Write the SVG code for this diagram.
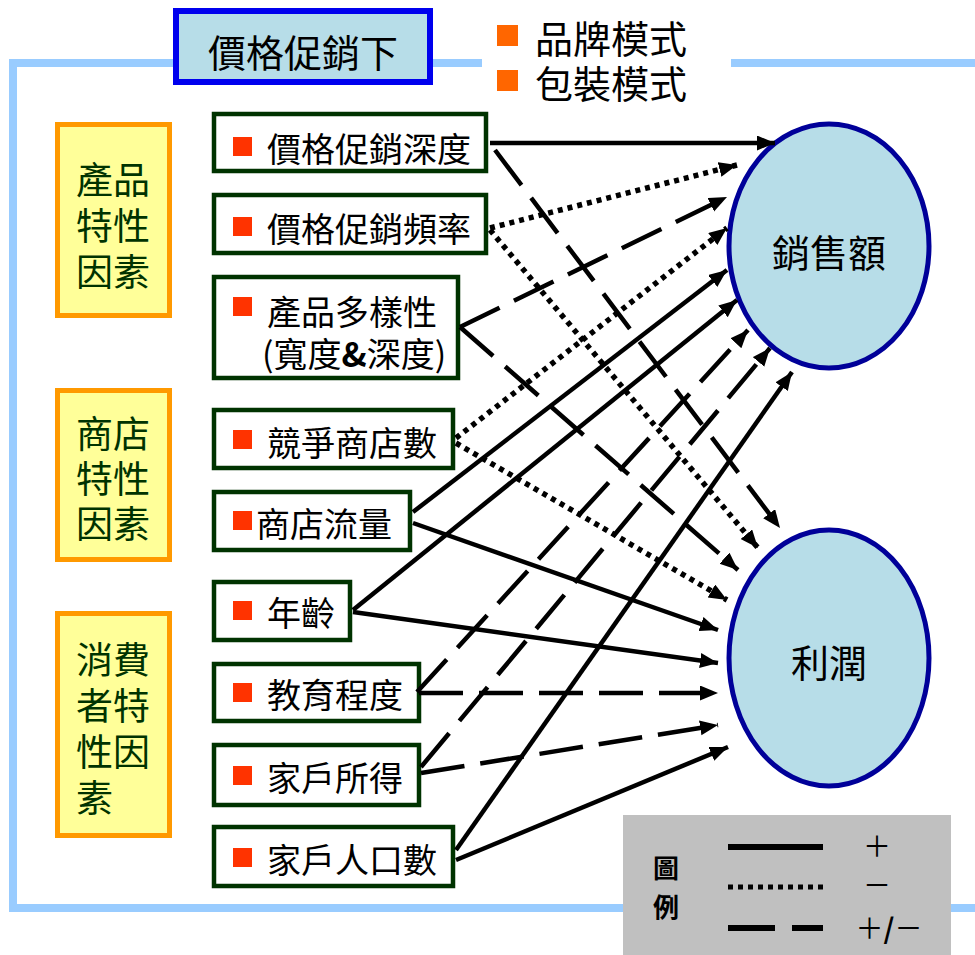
<svg xmlns="http://www.w3.org/2000/svg" width="975" height="955" viewBox="0 0 975 955">
<style>
text{font-family:"Noto Sans CJK TC","Noto Sans CJK SC",sans-serif;dominant-baseline:central}
.cat{fill:#FFFF99;stroke:#FF9900;stroke-width:5}
.cattxt{font-size:37px;fill:#003300}
.fac{fill:#FFFFFF;stroke:#003300;stroke-width:4.5}
.factxt{font-size:34px;fill:#000}
.sq{fill:#FF3300}
.ell{fill:#B7DDE8;stroke:#000099;stroke-width:5}
.elltxt{font-size:38px;fill:#000;text-anchor:middle}
.c{fill:none;stroke:#000;stroke-width:4.5;marker-end:url(#ah)}
.dot{stroke-dasharray:5 5;stroke-width:5.5}
.dash{stroke-dasharray:44 16}
</style>
<defs>
<marker id="ah" markerUnits="userSpaceOnUse" markerWidth="20" markerHeight="16" refX="18" refY="7.5" orient="auto">
<path d="M0,0 L18,7.5 L0,15 z" fill="#000"/>
</marker>
</defs>
<rect width="975" height="955" fill="#FFFFFF"/>
<g id="frame">
<rect x="13" y="63" width="1000" height="845" fill="none" stroke="#99CCFF" stroke-width="8"/>
<rect x="482" y="52" width="249" height="22" fill="#FFFFFF"/>
</g>
<g id="title">
<rect x="176" y="11" width="254" height="71" fill="#B7DDE8" stroke="#0000EE" stroke-width="6"/>
<text x="303" y="50" font-size="38" text-anchor="middle">價格促銷下</text>
</g>
<g id="modes">
<rect x="497" y="25" width="21" height="21" fill="#FF6600"/>
<rect x="497" y="70" width="21" height="21" fill="#FF6600"/>
<text font-size="38"><tspan x="535" y="36">品牌模式</tspan><tspan x="535" y="81">包裝模式</tspan></text>
</g>
<g id="cat-product">
<rect class="cat" x="57.5" y="124.5" width="112" height="191"/>
<text class="cattxt"><tspan x="76" y="178">產品</tspan><tspan x="76" y="224">特性</tspan><tspan x="76" y="270">因素</tspan></text>
</g>
<g id="cat-store">
<rect class="cat" x="57.5" y="390.5" width="112" height="169"/>
<text class="cattxt"><tspan x="76" y="432">商店</tspan><tspan x="76" y="477">特性</tspan><tspan x="76" y="522">因素</tspan></text>
</g>
<g id="cat-consumer">
<rect class="cat" x="57.5" y="613.5" width="112" height="222"/>
<text class="cattxt"><tspan x="76" y="658">消費</tspan><tspan x="76" y="704">者特</tspan><tspan x="76" y="750">性因</tspan><tspan x="76" y="796">素</tspan></text>
</g>
<g id="f1">
<rect class="fac" x="214" y="114" width="272" height="57"/>
<rect class="sq" x="233" y="137" width="19" height="19"/>
<text class="factxt" x="267" y="147">價格促銷深度</text>
</g>
<g id="f2">
<rect class="fac" x="214" y="195" width="272" height="58"/>
<rect class="sq" x="233" y="217" width="19" height="19"/>
<text class="factxt" x="267" y="227">價格促銷頻率</text>
</g>
<g id="f3">
<rect class="fac" x="214" y="277" width="244" height="101"/>
<rect class="sq" x="233" y="297" width="19" height="19"/>
<text class="factxt"><tspan x="267" y="310">產品多樣性</tspan><tspan x="262" y="352">(寬度</tspan><tspan font-weight="bold">&amp;</tspan><tspan>深度)</tspan></text>
</g>
<g id="f4">
<rect class="fac" x="214" y="410" width="239" height="58"/>
<rect class="sq" x="233" y="430" width="19" height="19"/>
<text class="factxt" x="267" y="441">競爭商店數</text>
</g>
<g id="f5">
<rect class="fac" x="214" y="492" width="196" height="58"/>
<rect class="sq" x="233" y="511" width="19" height="19"/>
<text class="factxt" x="256" y="522">商店流量</text>
</g>
<g id="f6">
<rect class="fac" x="214" y="582" width="136" height="58"/>
<rect class="sq" x="233" y="601" width="19" height="19"/>
<text class="factxt" x="267" y="611">年齡</text>
</g>
<g id="f7">
<rect class="fac" x="214" y="664" width="205" height="57"/>
<rect class="sq" x="233" y="683" width="19" height="19"/>
<text class="factxt" x="267" y="693">教育程度</text>
</g>
<g id="f8">
<rect class="fac" x="214" y="745" width="205" height="60"/>
<rect class="sq" x="233" y="766" width="19" height="19"/>
<text class="factxt" x="267" y="776">家戶所得</text>
</g>
<g id="f9">
<rect class="fac" x="214" y="827" width="239" height="59"/>
<rect class="sq" x="233" y="848" width="19" height="19"/>
<text class="factxt" x="267" y="858">家戶人口數</text>
</g>
<g id="sales">
<ellipse class="ell" cx="829" cy="246" rx="100" ry="122"/>
<text class="elltxt" x="829" y="250">銷售額</text>
</g>
<g id="profit">
<ellipse class="ell" cx="829" cy="658" rx="100" ry="128"/>
<text class="elltxt" x="829" y="660">利潤</text>
</g>
<g id="connectors">
<line class="c" x1="490" y1="143" x2="775" y2="143"/>
<line class="c dot" x1="490" y1="228" x2="737" y2="165"/>
<line class="c dash" x1="460" y1="327" x2="727" y2="197"/>
<line class="c dot" x1="456" y1="438" x2="727" y2="228"/>
<line class="c" x1="413" y1="512" x2="727" y2="270"/>
<line class="c" x1="353" y1="610" x2="737" y2="300"/>
<line class="c dash" x1="417" y1="692" x2="748" y2="330"/>
<line class="c dash" x1="421" y1="767" x2="770" y2="348"/>
<line class="c" x1="456" y1="850" x2="792" y2="372"/>
<line class="c dash" x1="495" y1="150" x2="780" y2="528"/>
<line class="c dot" x1="490" y1="230" x2="758" y2="548"/>
<line class="c dash" x1="460" y1="327" x2="738" y2="570"/>
<line class="c dot" x1="456" y1="443" x2="727" y2="600"/>
<line class="c" x1="413" y1="523" x2="718" y2="630"/>
<line class="c" x1="353" y1="612" x2="718" y2="663"/>
<line class="c dash" x1="419" y1="693" x2="718" y2="693"/>
<line class="c dash" x1="421" y1="773" x2="718" y2="725"/>
<line class="c" x1="456" y1="860" x2="728" y2="747"/>
</g>
<g id="legend">
<rect x="623" y="815" width="328" height="145" fill="#C0C0C0"/>
<text font-size="26" font-weight="bold" text-anchor="middle"><tspan x="666" y="866">圖</tspan><tspan x="666" y="905">例</tspan></text>
<line x1="728" y1="847" x2="823" y2="847" stroke="#000" stroke-width="6"/>
<line x1="728" y1="887" x2="823" y2="887" stroke="#000" stroke-width="5" stroke-dasharray="5 5"/>
<line x1="728" y1="928" x2="775" y2="928" stroke="#000" stroke-width="6"/>
<line x1="792" y1="928" x2="823" y2="928" stroke="#000" stroke-width="6"/>
<text font-size="28" text-anchor="middle"><tspan x="877" y="845">＋</tspan><tspan x="877" y="884">－</tspan><tspan x="889" y="927">＋<tspan font-weight="bold">/</tspan>－</tspan></text>
</g>
</svg>
